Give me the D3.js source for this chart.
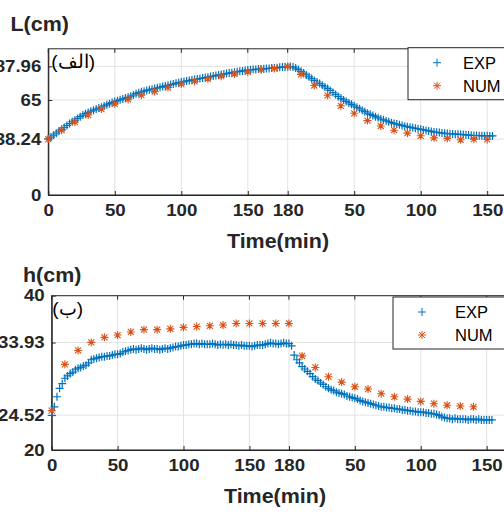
<!DOCTYPE html>
<html>
<head>
<meta charset="utf-8">
<script src="https://cdn.jsdelivr.net/npm/d3@7"></script>
<style>
  body { margin: 0; background: #fff; }
  text { font-family: "Liberation Sans", Arial, sans-serif; }
</style>
</head>
<body>
<script>
"use strict";

// x ticks: time runs 0..180 then restarts for the second phase
const xTicks = [0, 50, 100, 150, 180, 230, 280, 330];
const xTickLabels = ["0", "50", "100", "150", "180", "50", "100", "150"];

const lTicks = [0, 38.24, 65, 87.96];
const hTicks = [20, 24.52, 33.93, 40];

// EXP measured every 2 min, t = 0..334
const lExp = [
  38.5, 39.6, 41.0, 42.3, 43.6, 44.9, 46.2, 47.6, 48.9, 50.1,
  51.2, 52.4, 53.6, 54.7, 55.6, 56.5, 57.3, 58.0, 58.8, 59.5,
  60.1, 60.9, 61.7, 62.5, 63.2, 63.9, 64.5, 65.1, 65.7, 66.3,
  66.8, 67.6, 68.4, 69.3, 70.0, 70.6, 71.0, 71.5, 72.0, 72.4,
  72.8, 73.3, 73.7, 74.2, 74.6, 75.0, 75.5, 75.9, 76.4, 76.8,
  77.3, 77.6, 78.0, 78.3, 78.7, 79.0, 79.3, 79.7, 80.0, 80.3,
  80.6, 81.0, 81.4, 81.7, 82.1, 82.4, 82.7, 83.1, 83.4, 83.7,
  84.0, 84.3, 84.6, 84.9, 85.2, 85.5, 85.6, 85.8, 85.9, 86.1,
  86.2, 86.3, 86.5, 86.6, 86.8, 86.9, 87.1, 87.3, 87.5, 87.6,
  87.8, 87.9, 87.6, 86.8, 85.8, 84.6, 83.4, 82.1, 80.8, 79.6,
  78.4, 77.3, 76.2, 75.0, 73.9, 72.8, 71.5, 70.1, 68.8, 67.4,
  66.1, 65.0, 64.0, 63.0, 62.0, 61.0, 60.0, 59.0, 58.0, 57.0,
  56.0, 55.2, 54.4, 53.6, 52.8, 52.0, 51.4, 50.7, 50.1, 49.5,
  48.9, 48.5, 48.0, 47.6, 47.1, 46.7, 46.3, 46.0, 45.6, 45.3,
  44.9, 44.5, 44.2, 43.8, 43.5, 43.1, 42.9, 42.7, 42.4, 42.2,
  42.0, 41.9, 41.8, 41.6, 41.5, 41.4, 41.3, 41.1, 41.0, 40.8,
  40.7, 40.7, 40.6, 40.6, 40.5, 40.5, 40.4, 40.4
];
// NUM every 10 min, t = 0..330
const lNum = [
  38.24, 44.3, 49.8, 54.7, 58.8, 62.3, 65.4, 68.3, 70.8, 73.5,
  75.9, 77.7, 79.5, 81.3, 82.8, 84.2, 85.7, 86.6, 87.96, 82.5,
  74.9, 68.2, 61.0, 55.9, 50.9, 47.2, 44.3, 42.3, 40.5, 39.1,
  38.7, 37.8, 38.2, 38.0
];

const hExp = [
  24.5, 25.6, 26.9, 28.0, 28.6, 29.3, 29.6, 29.9, 30.1, 30.4,
  30.6, 30.7, 30.9, 31.0, 31.3, 31.7, 31.8, 31.9, 32.0, 32.1,
  32.1, 32.2, 32.2, 32.3, 32.4, 32.4, 32.5, 32.7, 32.8, 32.9,
  33.0, 33.1, 33.0, 33.1, 33.2, 33.1, 33.0, 33.1, 33.2, 33.1,
  33.1, 33.0, 33.1, 33.2, 33.1, 33.2, 33.3, 33.4, 33.4, 33.5,
  33.6, 33.6, 33.7, 33.7, 33.8, 33.8, 33.7, 33.8, 33.7, 33.7,
  33.7, 33.8, 33.7, 33.6, 33.7, 33.65, 33.7, 33.6, 33.7, 33.6,
  33.6, 33.5, 33.6, 33.5, 33.5, 33.5, 33.4, 33.5, 33.6, 33.6,
  33.6, 33.7, 33.8, 33.9, 33.8, 33.8, 33.7, 33.8, 33.9, 33.8,
  33.8, 33.5, 32.3, 31.7, 31.3, 30.8, 30.5, 30.2, 29.9, 29.5,
  29.2, 29.0, 28.7, 28.5, 28.2, 28.0, 27.8, 27.7, 27.5, 27.4,
  27.3, 27.2, 27.0, 26.9, 26.8, 26.7, 26.6, 26.4, 26.3, 26.2,
  26.1, 26.0, 25.9, 25.8, 25.7, 25.6, 25.6, 25.5, 25.5, 25.4,
  25.4, 25.3, 25.3, 25.2, 25.2, 25.1, 25.1, 25.0, 25.0, 24.9,
  24.9, 24.9, 24.8, 24.8, 24.7, 24.7, 24.6, 24.5, 24.3, 24.2,
  24.1, 24.1, 24.0, 24.1, 24.0, 24.0, 24.0, 24.0, 23.9, 24.0,
  24.0, 23.9, 24.0, 23.9, 23.9, 23.9, 23.9, 23.9
];
const hNum = [
  25.1, 31.1, 32.9, 33.95, 34.6, 34.9, 35.3, 35.6, 35.6, 35.7,
  35.9, 36.0, 36.1, 36.2, 36.4, 36.4, 36.4, 36.4, 36.4, 32.2,
  30.7, 29.5, 28.8, 28.2, 27.9, 27.3, 26.9, 26.6, 26.3, 26.0,
  25.8, 25.7, 25.6
];

const blue = "#0072BD";
const orange = "#D95319";
const dark = "#262626";

const plusPath = "M-4,0H4M0,-4V4";
const starPath = "M-4,0H4M0,-4V4M-3,-3L3,3M-3,3L3,-3";

let svg = d3.select("body")
  .append("svg")
  .attr("width", 504)
  .attr("height", 514);

// the original font is a bit wider than Liberation Sans, so stretch glyphs
function stretch(sel, f) {
  sel.each(function() {
    let w = this.getComputedTextLength();
    d3.select(this)
      .attr("textLength", w * f)
      .attr("lengthAdjust", "spacingAndGlyphs");
  });
}

function panel(cfg) {
  let x = d3.scaleLinear().domain([0, 350]).range([cfg.left, cfg.left + 350 * cfg.kx]);
  let y = d3.scaleLinear().domain(cfg.yDomain).range([cfg.bottom, cfg.top]);
  let g = svg.append("g");
  let right = x(350);

  // grid
  g.append("g")
    .selectAll("line")
    .data(xTicks)
    .enter()
    .append("line")
    .attr("x1", d => x(d)).attr("x2", d => x(d))
    .attr("y1", cfg.top).attr("y2", cfg.bottom)
    .attr("stroke", "#e3e3e3");
  g.append("g")
    .selectAll("line")
    .data(cfg.yTicks)
    .enter()
    .append("line")
    .attr("x1", cfg.left).attr("x2", right)
    .attr("y1", d => y(d)).attr("y2", d => y(d))
    .attr("stroke", "#e3e3e3");

  // box + inward ticks
  g.append("rect")
    .attr("x", cfg.left).attr("y", cfg.top)
    .attr("width", right - cfg.left).attr("height", cfg.bottom - cfg.top)
    .attr("fill", "none").attr("stroke", dark).attr("stroke-width", 1);

  let xAxis = d3.axisBottom(x)
    .tickValues(xTicks)
    .tickFormat((d, i) => xTickLabels[i])
    .tickSizeInner(-4)
    .tickSizeOuter(0)
    .tickPadding(9);
  let xa = g.append("g")
    .attr("transform", `translate(0,${cfg.bottom})`)
    .call(xAxis);
  xa.select(".domain").attr("stroke", dark);
  xa.selectAll(".tick line").attr("stroke", dark);
  xa.selectAll("text")
    .attr("fill", dark)
    .attr("font-size", 16.5)
    .attr("font-weight", "bold")
    .attr("font-family", "Liberation Sans, Arial, sans-serif")
    .call(stretch, 1.13);

  // top ticks
  g.append("g")
    .selectAll("line")
    .data(xTicks)
    .enter()
    .append("line")
    .attr("x1", d => x(d)).attr("x2", d => x(d))
    .attr("y1", cfg.top).attr("y2", cfg.top + 4)
    .attr("stroke", dark);

  let yAxis = d3.axisLeft(y)
    .tickValues(cfg.yTicks)
    .tickFormat(d => String(d))
    .tickSizeInner(-4)
    .tickSizeOuter(0)
    .tickPadding(7);
  let ya = g.append("g")
    .attr("transform", `translate(${cfg.left},0)`)
    .call(yAxis);
  ya.select(".domain").attr("stroke", dark);
  ya.selectAll(".tick line").attr("stroke", dark);
  ya.selectAll("text")
    .attr("fill", dark)
    .attr("font-size", 16.5)
    .attr("font-weight", "bold")
    .attr("font-family", "Liberation Sans, Arial, sans-serif")
    .call(stretch, 1.13);

  // data
  let expPts = cfg.exp.map((v, i) => [i * 2, v]);
  let numPts = cfg.num.map((v, i) => [i * 10, v]);

  g.append("g")
    .selectAll("path")
    .data(expPts)
    .enter()
    .append("path")
    .attr("d", plusPath)
    .attr("transform", d => `translate(${x(d[0])},${y(d[1])})`)
    .attr("stroke", blue)
    .attr("stroke-width", 1.2)
    .attr("fill", "none");

  g.append("g")
    .selectAll("path")
    .data(numPts)
    .enter()
    .append("path")
    .attr("d", starPath)
    .attr("transform", d => `translate(${x(d[0])},${y(d[1])})`)
    .attr("stroke", orange)
    .attr("stroke-width", 1.1)
    .attr("fill", "none");

  // labels
  g.append("text")
    .attr("x", cfg.yLabelX).attr("y", cfg.yLabelY)
    .attr("font-size", 19.5).attr("font-weight", "bold").attr("fill", dark)
    .text(cfg.yLabel)
    .call(stretch, 1.1);

  g.append("text")
    .attr("x", cfg.titleX).attr("y", cfg.titleY)
    .attr("text-anchor", "middle")
    .attr("font-size", 19.5).attr("font-weight", "bold").attr("fill", dark)
    .text("Time(min)")
    .call(stretch, 1.1);

  g.append("text")
    .attr("x", cfg.panelX).attr("y", cfg.top + 19)
    .attr("direction", "rtl")
    .attr("font-size", 19).attr("fill", "#000")
    .attr("font-family", "DejaVu Sans, sans-serif")
    .text(cfg.panelText);

  // legend
  let lg = g.append("g");
  lg.append("rect")
    .attr("x", cfg.legX).attr("y", cfg.legY)
    .attr("width", 130).attr("height", 52)
    .attr("fill", "#fff").attr("stroke", dark);
  lg.append("path")
    .attr("d", plusPath)
    .attr("transform", `translate(${cfg.legX + 29},${cfg.legY + 15})`)
    .attr("stroke", blue).attr("fill", "none");
  lg.append("path")
    .attr("d", starPath)
    .attr("transform", `translate(${cfg.legX + 29},${cfg.legY + 38})`)
    .attr("stroke", orange).attr("fill", "none");
  lg.append("text")
    .attr("x", cfg.legX + cfg.legTextDx).attr("y", cfg.legY + 21)
    .attr("font-size", 16.5).attr("fill", "#000")
    .text("EXP");
  lg.append("text")
    .attr("x", cfg.legX + cfg.legTextDx).attr("y", cfg.legY + 44)
    .attr("font-size", 16.5).attr("fill", "#000")
    .text("NUM");
}

panel({
  left: 48.3, kx: 1.330, top: 48.8, bottom: 195,
  yDomain: [0, 100], yTicks: lTicks,
  exp: lExp, num: lNum,
  yLabel: "L(cm)", yLabelX: 10.5, yLabelY: 31, titleX: 278, titleY: 248,
  panelX: 95, panelText: "(الف)",
  legX: 408, legY: 47.7, legTextDx: 55
});

panel({
  left: 51.7, kx: 1.318, top: 295.7, bottom: 450,
  yDomain: [20, 40], yTicks: hTicks,
  exp: hExp, num: hNum,
  yLabel: "h(cm)", yLabelX: 23, yLabelY: 282, titleX: 275, titleY: 503,
  panelX: 83, panelText: "(ب)",
  legX: 393, legY: 297, legTextDx: 62
});
</script>
</body>
</html>
